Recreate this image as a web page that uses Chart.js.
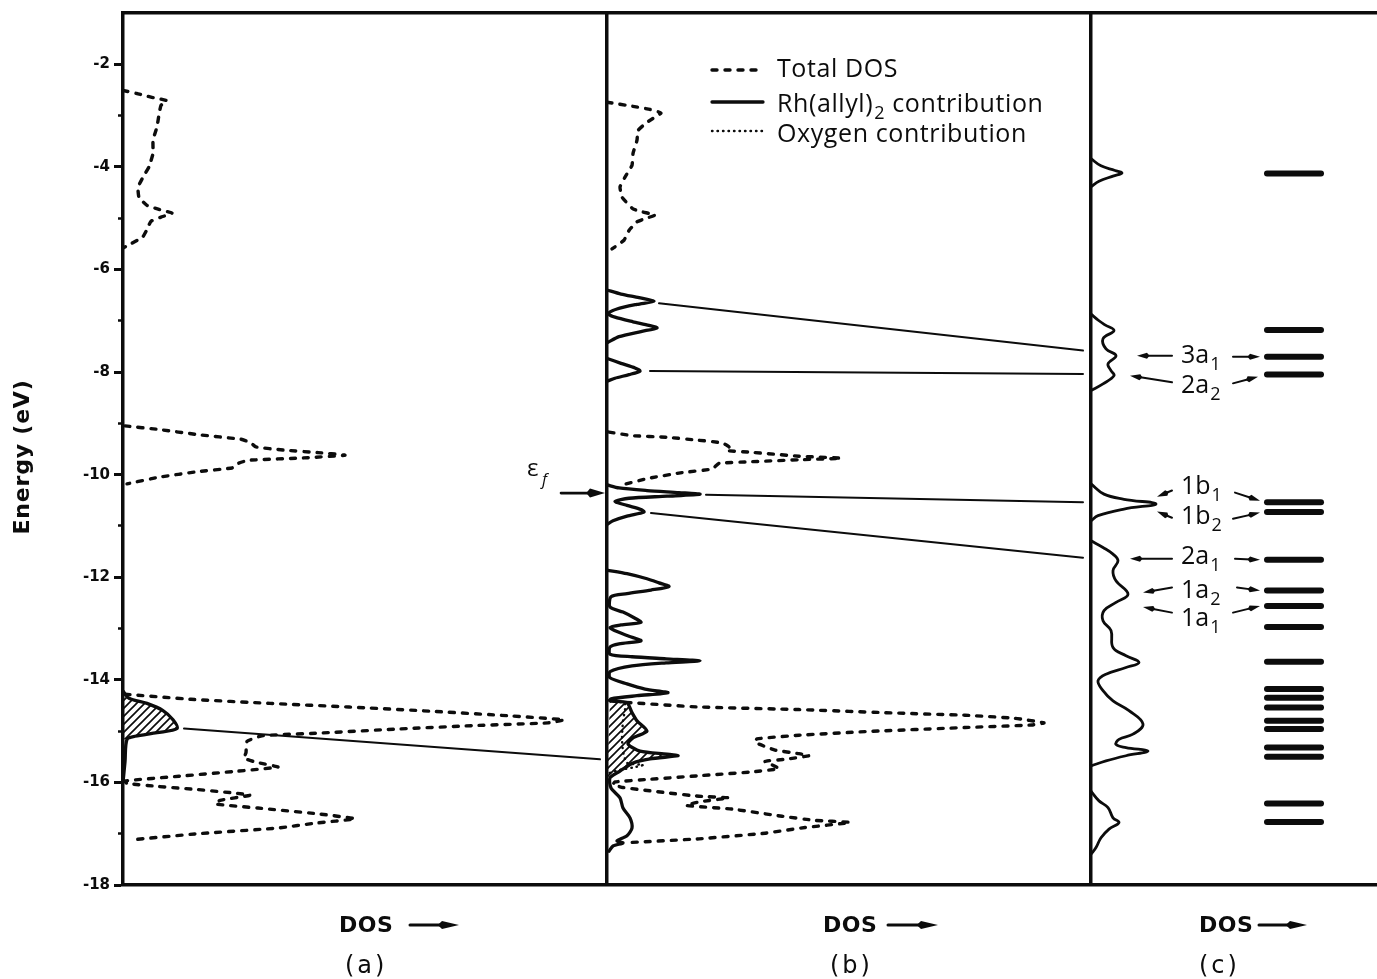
<!DOCTYPE html>
<html>
<head>
<meta charset="utf-8">
<title>Density of states</title>
<script src="https://cdn.jsdelivr.net/npm/chart.js@4/dist/chart.umd.min.js"></script>
<style>
html,body{margin:0;padding:0;background:#ffffff;overflow:hidden;}
canvas{display:block;}
</style>
</head>
<body>
<canvas id="chart" width="1377" height="979" style="width:1377px;height:979px"></canvas>
<script>
// ===================== DATA (energy in eV, DOS in arbitrary units from each panel's baseline) =====================
const energyTicks = [-2, -4, -6, -8, -10, -12, -14, -16, -18];
const energyMinorTicks = [-3, -5, -7, -9, -11, -13, -15, -17];
const panelNames = ['(a)', '(b)', '(c)'];

// Panel (a) - total DOS  [energy, DOS]
const totalA_top = [[-2.51,0],[-2.57,14],[-2.64,28],[-2.71,44],[-2.80,38],[-2.98,36],[-3.22,34],[-3.48,30],[-3.74,30],[-4.00,26],[-4.20,20],[-4.40,15],[-4.60,16],[-4.75,24],[-4.83,36],[-4.90,49],[-4.98,38],[-5.06,28],[-5.22,24],[-5.36,20],[-5.50,8],[-5.58,0]];
const totalA_mid = [[-9.05,2],[-9.12,36],[-9.22,75],[-9.31,118],[-9.37,127],[-9.46,133],[-9.52,160],[-9.57,195],[-9.62,222],[-9.67,185],[-9.72,125],[-9.79,114],[-9.87,109],[-9.94,75],[-10.05,36],[-10.18,4]];
const totalA_low = [[-14.28,2],[-14.38,68],[-14.46,147],[-14.53,226],[-14.61,306],[-14.70,385],[-14.78,441],[-14.84,425],[-14.89,353],[-14.96,274],[-15.04,194],[-15.09,139],[-15.20,124],[-15.42,123],[-15.53,121],[-15.61,134],[-15.70,155],[-15.78,115],[-15.88,56],[-15.97,2],[-16.02,4],[-16.08,36],[-16.14,75],[-16.21,113],[-16.25,127],[-16.35,97],[-16.42,92],[-16.50,135],[-16.61,194],[-16.71,232],[-16.79,194],[-16.89,155],[-17.00,75],[-17.12,8]];
// Panel (a) - Rh(allyl)2 contribution (hatched)
const rhA = [[-14.22,0],[-14.36,6],[-14.46,24],[-14.60,40],[-14.78,50],[-14.95,54],[-15.03,34],[-15.10,12],[-15.16,4],[-15.60,2],[-16.00,0]];
const hatchRangeA = [-14.22, -15.16];

// Panel (b) - total DOS
const totalB_top = [[-2.74,0],[-2.82,26],[-2.88,43],[-2.95,54],[-3.13,40],[-3.29,31],[-3.48,30],[-3.74,26],[-3.97,25],[-4.20,18],[-4.39,13],[-4.59,15],[-4.82,26],[-4.88,36],[-4.94,48],[-5.01,38],[-5.07,30],[-5.24,22],[-5.43,17],[-5.60,5]];
const totalB_mid = [[-9.17,2],[-9.24,25],[-9.27,59],[-9.33,92],[-9.38,115],[-9.46,122],[-9.53,119],[-9.56,142],[-9.64,192],[-9.68,234],[-9.71,192],[-9.75,142],[-9.78,112],[-9.89,105],[-9.96,75],[-10.07,42],[-10.18,19]];
const totalB_low = [[-14.44,19],[-14.53,92],[-14.58,192],[-14.65,292],[-14.69,358],[-14.75,408],[-14.84,437],[-14.88,425],[-14.93,358],[-15.01,258],[-15.08,192],[-15.15,150],[-15.22,148],[-15.37,168],[-15.44,192],[-15.48,202],[-15.55,178],[-15.59,158],[-15.73,172],[-15.80,142],[-15.87,92],[-15.94,42],[-15.99,8],[-16.04,6],[-16.10,16],[-16.20,59],[-16.27,92],[-16.30,122],[-16.38,92],[-16.45,79],[-16.52,125],[-16.66,175],[-16.74,208],[-16.78,243],[-16.88,198],[-16.99,158],[-17.10,92],[-17.17,25]];
// Panel (b) - Rh(allyl)2 contribution
const rhB = [[-6.40,0],[-6.48,14],[-6.55,32],[-6.62,47],[-6.68,30],[-6.77,10],[-6.86,1],
  [-6.93,8],[-7.02,26],[-7.09,42],[-7.14,50],[-7.21,34],[-7.31,12],[-7.42,1],
  [-7.74,1],[-7.83,14],[-7.92,28],[-7.98,33],[-8.05,22],[-8.12,8],[-8.18,0],
  [-10.20,0],[-10.26,12],[-10.31,40],[-10.35,72],[-10.38,93],[-10.42,60],[-10.46,22],[-10.52,8],[-10.60,20],[-10.68,34],[-10.73,37],[-10.81,20],[-10.90,6],[-10.97,0],
  [-11.86,0],[-11.93,20],[-12.03,40],[-12.11,52],[-12.18,62],[-12.25,44],[-12.32,20],[-12.38,4],
  [-12.58,3],[-12.68,16],[-12.80,28],[-12.88,34],[-12.93,14],[-12.98,3],
  [-13.06,10],[-13.15,22],[-13.24,34],[-13.30,12],[-13.36,3],
  [-13.50,3],[-13.55,25],[-13.59,59],[-13.63,93],[-13.67,59],[-13.73,25],[-13.84,3],
  [-13.96,3],[-14.08,20],[-14.18,38],[-14.25,61],[-14.31,30],[-14.37,4],
  [-14.41,3],[-14.45,20],[-14.64,25],[-14.80,30],[-15.00,40],[-15.13,26],[-15.25,21],[-15.39,33],[-15.45,60],[-15.48,71],[-15.54,43],[-15.62,26],[-15.78,13],[-15.91,3],
  [-16.11,4],[-16.30,13],[-16.50,16],[-16.69,23],[-16.89,25],[-17.04,20],[-17.14,10],[-17.18,16],[-17.24,6],[-17.34,2]];
const hatchRangeB = [-14.41, -15.91];
// Panel (b) - oxygen contribution
const oxygenB = [[-14.40,2],[-14.47,18],[-14.80,16],[-15.13,15],[-15.39,16],[-15.62,20],[-15.66,36],[-15.71,26],[-15.76,12],[-15.82,2]];

// Panel (c) - DOS of free Rh(allyl)2 and its energy levels
const dosC = [[-3.84,0],[-3.98,10],[-4.07,24],[-4.12,31],[-4.18,22],[-4.28,8],[-4.39,0],
  [-6.87,0],[-7.00,8],[-7.08,14],[-7.19,23],[-7.35,12],[-7.55,15],[-7.68,25],[-7.84,17],[-7.97,20],[-8.07,23],[-8.23,12],[-8.36,0],
  [-10.18,0],[-10.38,13],[-10.48,33],[-10.57,65],[-10.67,33],[-10.80,7],[-10.90,0],
  [-11.29,0],[-11.42,12],[-11.55,22],[-11.68,27],[-11.87,22],[-12.07,25],[-12.33,37],[-12.49,25],[-12.65,13],[-12.85,12],[-13.04,20],[-13.37,22],[-13.53,35],[-13.66,48],[-13.76,35],[-13.89,15],[-14.02,7],[-14.21,12],[-14.41,22],[-14.60,38],[-14.86,52],[-15.06,42],[-15.16,28],[-15.26,25],[-15.32,35],[-15.39,57],[-15.48,35],[-15.58,15],[-15.68,0],
  [-16.17,0],[-16.36,8],[-16.49,17],[-16.69,22],[-16.78,28],[-16.91,18],[-17.08,10],[-17.27,5],[-17.40,0]];
const levelsC = [-4.13,-7.18,-7.70,-8.05,-10.54,-10.73,-11.66,-12.26,-12.56,-12.97,-13.65,-14.18,-14.35,-14.54,-14.80,-14.96,-15.32,-15.50,-16.41,-16.77];

// Correlation lines [energy from, DOS from, energy to, DOS to]
const linksAB = [[-14.95, 61, -15.55, 477]];                      // within panel (a) towards (b)
const linksBC = [[-6.66, 52, -7.58, -8], [-7.98, 43, -8.04, -8],   // from panel (b) to panel (c)
                 [-10.39, 99, -10.54, -8], [-10.75, 44, -11.62, -8]];
const fermiLevel = -10.36;

// Orbital labels in panel (c): text, subscript, baseline energy
const orbitalNames = ['3a', '2a', '1b', '1b', '2a', '1a', '1a'];
const orbitalSubs  = ['1', '2', '1', '2', '1', '2', '1'];
const orbitalEnergy = [-7.83, -8.40, -10.37, -10.96, -11.74, -12.40, -12.95];
// label arrows: [E start, DOS start, E tip, DOS tip] (panel c units)
const orbitalArrows = [
  [-7.68, 81, -7.68, 46], [-7.70, 142, -7.70, 169],
  [-8.20, 81, -8.07, 39], [-8.22, 142, -8.09, 167],
  [-10.31, 81, -10.43, 66], [-10.35, 144, -10.51, 169],
  [-10.84, 81, -10.72, 66], [-10.86, 142, -10.74, 169],
  [-11.64, 81, -11.64, 39], [-11.64, 144, -11.66, 169],
  [-12.20, 81, -12.30, 52], [-12.20, 146, -12.26, 169],
  [-12.69, 81, -12.58, 52], [-12.69, 142, -12.56, 169]
];

// ===================== LAYOUT / STYLE =====================
const INK = '#0c0c0c';
const OFF = {a: 0, b: 484, c: 968};
const X_MAX = 1254;
const panelDividers = [OFF.b, OFF.c];
const LEVEL_X = [176, 230];

function toPoints(arr, off) { return arr.map(p => ({x: off + p[1], y: p[0]})); }
// split a curve where it lies flat on the baseline for a long stretch (avoids spline bowing)
function splitRuns(arr) {
  const parts = []; let cur = [arr[0]];
  for (let i = 1; i < arr.length; i++) {
    const p = arr[i - 1], q = arr[i];
    if (p[1] <= 1 && q[1] <= 1 && Math.abs(p[0] - q[0]) > 0.3) { parts.push(cur); cur = [q]; }
    else cur.push(q);
  }
  parts.push(cur);
  return parts;
}
function curve(label, arr, off, style) {
  return Object.assign({
    label: label, data: toPoints(arr, off), showLine: true, pointRadius: 0, pointHoverRadius: 0,
    borderColor: INK, backgroundColor: INK, fill: false, borderJoinStyle: 'round', borderCapStyle: 'round'
  }, style);
}
const dashed = {borderWidth: 3.4, borderDash: [5, 8], tension: 0.12};
const solid = {borderWidth: 3.3, tension: 0.3};
const dotted = {borderWidth: 2.4, borderDash: [0.5, 5], tension: 0.2};
const thin = {borderWidth: 2, tension: 0};

function hatchSet(arr, range, off) {
  const pts = arr.filter(p => p[0] <= range[0] && p[0] >= range[1]);
  pts.push([range[1], 0]);
  return {label: 'hatch', hatch: true, data: toPoints(pts, off), showLine: false, pointRadius: 0, pointHoverRadius: 0};
}

const datasets = [
  hatchSet(rhA, hatchRangeA, OFF.a),
  hatchSet(rhB, hatchRangeB, OFF.b),
  curve('Total DOS (a)', totalA_top, OFF.a, dashed),
  curve('Total DOS (a)', totalA_mid, OFF.a, dashed),
  curve('Total DOS (a)', totalA_low, OFF.a, dashed),
  curve('Total DOS (b)', totalB_top, OFF.b, dashed),
  curve('Total DOS (b)', totalB_mid, OFF.b, dashed),
  curve('Total DOS (b)', totalB_low, OFF.b, dashed),
  curve('Oxygen (b)', oxygenB, OFF.b, dotted)
];
splitRuns(rhA).forEach(s => datasets.push(curve('Rh(allyl)2 (a)', s, OFF.a, solid)));
splitRuns(rhB).forEach(s => datasets.push(curve('Rh(allyl)2 (b)', s, OFF.b, Object.assign({}, solid, {tension: 0.25}))));
splitRuns(dosC).forEach(s => datasets.push(curve('DOS (c)', s, OFF.c, {borderWidth: 2.8, tension: 0.4})));
linksAB.forEach(l => datasets.push(Object.assign(curve('link', [], 0, thin), {data: [{x: OFF.a + l[1], y: l[0]}, {x: OFF.a + l[3], y: l[2]}]})));
linksBC.forEach(l => datasets.push(Object.assign(curve('link', [], 0, thin), {data: [{x: OFF.b + l[1], y: l[0]}, {x: OFF.c + l[3], y: l[2]}]})));
levelsC.forEach(e => datasets.push(Object.assign(curve('level', [], 0, {borderWidth: 6, tension: 0}),
  {data: [{x: OFF.c + LEVEL_X[0], y: e}, {x: OFF.c + LEVEL_X[1], y: e}]})));

// ===================== PLUGINS =====================
const hatchPlugin = {
  id: 'hatch',
  beforeDatasetsDraw(chart) {
    const ctx = chart.ctx;
    const pc = document.createElement('canvas'); pc.width = 8; pc.height = 8;
    const g = pc.getContext('2d'); g.strokeStyle = INK; g.lineWidth = 1.7;
    g.beginPath(); g.moveTo(0, 8); g.lineTo(8, 0); g.moveTo(-2, 2); g.lineTo(2, -2); g.moveTo(6, 10); g.lineTo(10, 6); g.stroke();
    const pat = ctx.createPattern(pc, 'repeat');
    chart.data.datasets.forEach((ds, i) => {
      if (!ds.hatch) return;
      const pts = chart.getDatasetMeta(i).data;
      ctx.save(); ctx.beginPath();
      pts.forEach((p, k) => k ? ctx.lineTo(p.x, p.y) : ctx.moveTo(p.x, p.y));
      ctx.closePath(); ctx.fillStyle = pat; ctx.fill(); ctx.restore();
    });
  }
};

function arrow(ctx, x1, y1, x2, y2, lw, hl, hw) {
  const a = Math.atan2(y2 - y1, x2 - x1);
  const bx = x2 - hl * Math.cos(a), by = y2 - hl * Math.sin(a);
  ctx.lineWidth = lw; ctx.setLineDash([]);
  ctx.beginPath(); ctx.moveTo(x1, y1); ctx.lineTo(bx + 1 * Math.cos(a), by + 1 * Math.sin(a)); ctx.stroke();
  ctx.beginPath(); ctx.moveTo(x2, y2);
  ctx.lineTo(bx + hw / 2 * Math.sin(a), by - hw / 2 * Math.cos(a));
  ctx.lineTo(bx - 0.25 * hl * Math.cos(a), by - 0.25 * hl * Math.sin(a));
  ctx.lineTo(bx - hw / 2 * Math.sin(a), by + hw / 2 * Math.cos(a));
  ctx.closePath(); ctx.fill();
}
function subText(ctx, main, sub, x, y, size, family) {
  ctx.font = size + 'px ' + family;
  ctx.fillText(main, x, y);
  const w = ctx.measureText(main).width;
  ctx.font = Math.round(size * 0.7) + 'px ' + family;
  ctx.fillText(sub, x + w + 1, y + size * 0.28);
  return x + w + 1 + ctx.measureText(sub).width;
}

const annotate = {
  id: 'annotate',
  afterDatasetsDraw(chart) {
    const ctx = chart.ctx, xs = chart.scales.x, ys = chart.scales.y, ca = chart.chartArea;
    const X = (panel, d) => xs.getPixelForValue(OFF[panel] + d);
    const Y = e => ys.getPixelForValue(e);
    ctx.save();
    ctx.fillStyle = INK; ctx.strokeStyle = INK; ctx.lineCap = 'round';
    ctx.textAlign = 'left'; ctx.textBaseline = 'alphabetic';

    // ---- legend (inside panel b)
    const lx0 = X('b', 105), lx1 = X('b', 156), tx = X('b', 170);
    const legendRows = [
      {y: ca.top + 57, base: ca.top + 64, dash: [5, 8], w: 3.4, text: 'Total DOS'},
      {y: ca.top + 89, base: ca.top + 99, dash: [], w: 3.3, text: 'Rh(allyl)', sub: '2', rest: ' contribution'},
      {y: ca.top + 118, base: ca.top + 129, dash: [0.5, 5], w: 2.4, text: 'Oxygen contribution'}
    ];
    legendRows.forEach(r => {
      ctx.setLineDash(r.dash); ctx.lineWidth = r.w;
      ctx.beginPath(); ctx.moveTo(lx0, r.y); ctx.lineTo(lx1, r.y); ctx.stroke();
      ctx.setLineDash([]);
      try { ctx.letterSpacing = '0.6px'; } catch (e) {}
      if (r.sub) {
        const xe = subText(ctx, r.text, r.sub, tx, r.base, 25, '"Open Sans"');
        ctx.font = '25px "Open Sans"'; ctx.fillText(r.rest, xe, r.base);
      } else {
        ctx.font = '25px "Open Sans"'; ctx.fillText(r.text, tx, r.base);
      }
      try { ctx.letterSpacing = '0px'; } catch (e) {}
    });

    // ---- Fermi level
    ctx.font = '24px "Open Sans"';
    ctx.fillText('\u03B5', X('a', 404), Y(-10.03));
    ctx.font = 'italic 16px "Open Sans"';
    ctx.fillText('f', X('a', 419), Y(-10.2));
    arrow(ctx, X('a', 438), Y(fermiLevel), X('a', 482), Y(fermiLevel), 2.6, 15, 9);

    // ---- orbital labels in panel c
    orbitalNames.forEach((n, i) => subText(ctx, n, orbitalSubs[i], X('c', 90), Y(orbitalEnergy[i]), 25, '"Open Sans"'));
    orbitalArrows.forEach(a => arrow(ctx, X('c', a[1]), Y(a[0]), X('c', a[3]), Y(a[2]), 2, 10, 6));

    // ---- y axis title
    ctx.save();
    ctx.translate(23, 457); ctx.rotate(-Math.PI / 2);
    ctx.textAlign = 'center'; ctx.textBaseline = 'middle';
    try { ctx.letterSpacing = '0.8px'; } catch (e) {}
    ctx.font = 'bold 22px "DejaVu Sans"';
    ctx.fillText('Energy (eV)', 0, 0);
    ctx.restore();

    // ---- DOS axis captions and panel names
    const capX = {a: 216, b: 216, c: 108};
    const arrX = {a: [287, 336], b: [281, 331], c: [168, 216]};
    const nameX = {a: 222, b: 223, c: 108};
    ['a', 'b', 'c'].forEach((p, i) => {
      ctx.textBaseline = 'middle'; ctx.textAlign = 'left';
      try { ctx.letterSpacing = '0.5px'; } catch (e) {}
      ctx.font = 'bold 22px "DejaVu Sans"';
      ctx.fillText('DOS', X(p, capX[p]), ca.bottom + 41);
      try { ctx.letterSpacing = '0px'; } catch (e) {}
      arrow(ctx, X(p, arrX[p][0]), ca.bottom + 40, X(p, arrX[p][1]), ca.bottom + 40, 3, 17, 8);
      try { ctx.letterSpacing = '3px'; } catch (e) {}
      ctx.font = '24px "DejaVu Sans"';
      ctx.fillText(panelNames[i], X(p, nameX[p]), ca.bottom + 82);
      try { ctx.letterSpacing = '0px'; } catch (e) {}
    });
    ctx.restore();
  }
};

// ===================== CHART =====================
new Chart(document.getElementById('chart'), {
  type: 'scatter',
  data: {datasets: datasets},
  options: {
    responsive: false, animation: false, devicePixelRatio: 1,
    layout: {padding: 0},
    plugins: {legend: {display: false}, tooltip: {enabled: false}},
    elements: {point: {radius: 0}},
    scales: {
      x: {
        type: 'linear', position: 'bottom', min: 0, max: X_MAX,
        afterBuildTicks: s => { s.ticks = panelDividers.map(v => ({value: v})); },
        afterFit: s => { s.height = 94; },
        grid: {display: true, drawOnChartArea: true, drawTicks: false, lineWidth: 3.5, color: INK},
        border: {display: true, width: 3.5, color: INK},
        ticks: {display: false}
      },
      xTop: {
        type: 'linear', position: 'top', min: 0, max: X_MAX,
        afterFit: s => { s.height = 13; },
        grid: {display: false},
        border: {display: true, width: 3.5, color: INK},
        ticks: {display: false}
      },
      y: {
        type: 'linear', position: 'left', min: -18, max: -1, weight: 1,
        afterBuildTicks: s => { s.ticks = energyTicks.map(v => ({value: v})); },
        afterFit: s => { s.width = 123; },
        grid: {drawOnChartArea: false, drawTicks: true, tickLength: 9, tickWidth: 3, tickColor: INK},
        border: {display: true, width: 3.5, color: INK},
        ticks: {color: INK, padding: 4, font: {family: 'DejaVu Sans', weight: 'bold', size: 15}, callback: v => String(v)}
      },
      yMinor: {
        type: 'linear', position: 'left', min: -18, max: -1, weight: 0,
        afterBuildTicks: s => { s.ticks = energyMinorTicks.map(v => ({value: v})); },
        afterFit: s => { s.width = 0; },
        grid: {drawOnChartArea: false, drawTicks: true, tickLength: 5, tickWidth: 2.5, tickColor: INK},
        border: {display: false},
        ticks: {display: false}
      }
    }
  },
  plugins: [hatchPlugin, annotate]
});
</script>
</body>
</html>
